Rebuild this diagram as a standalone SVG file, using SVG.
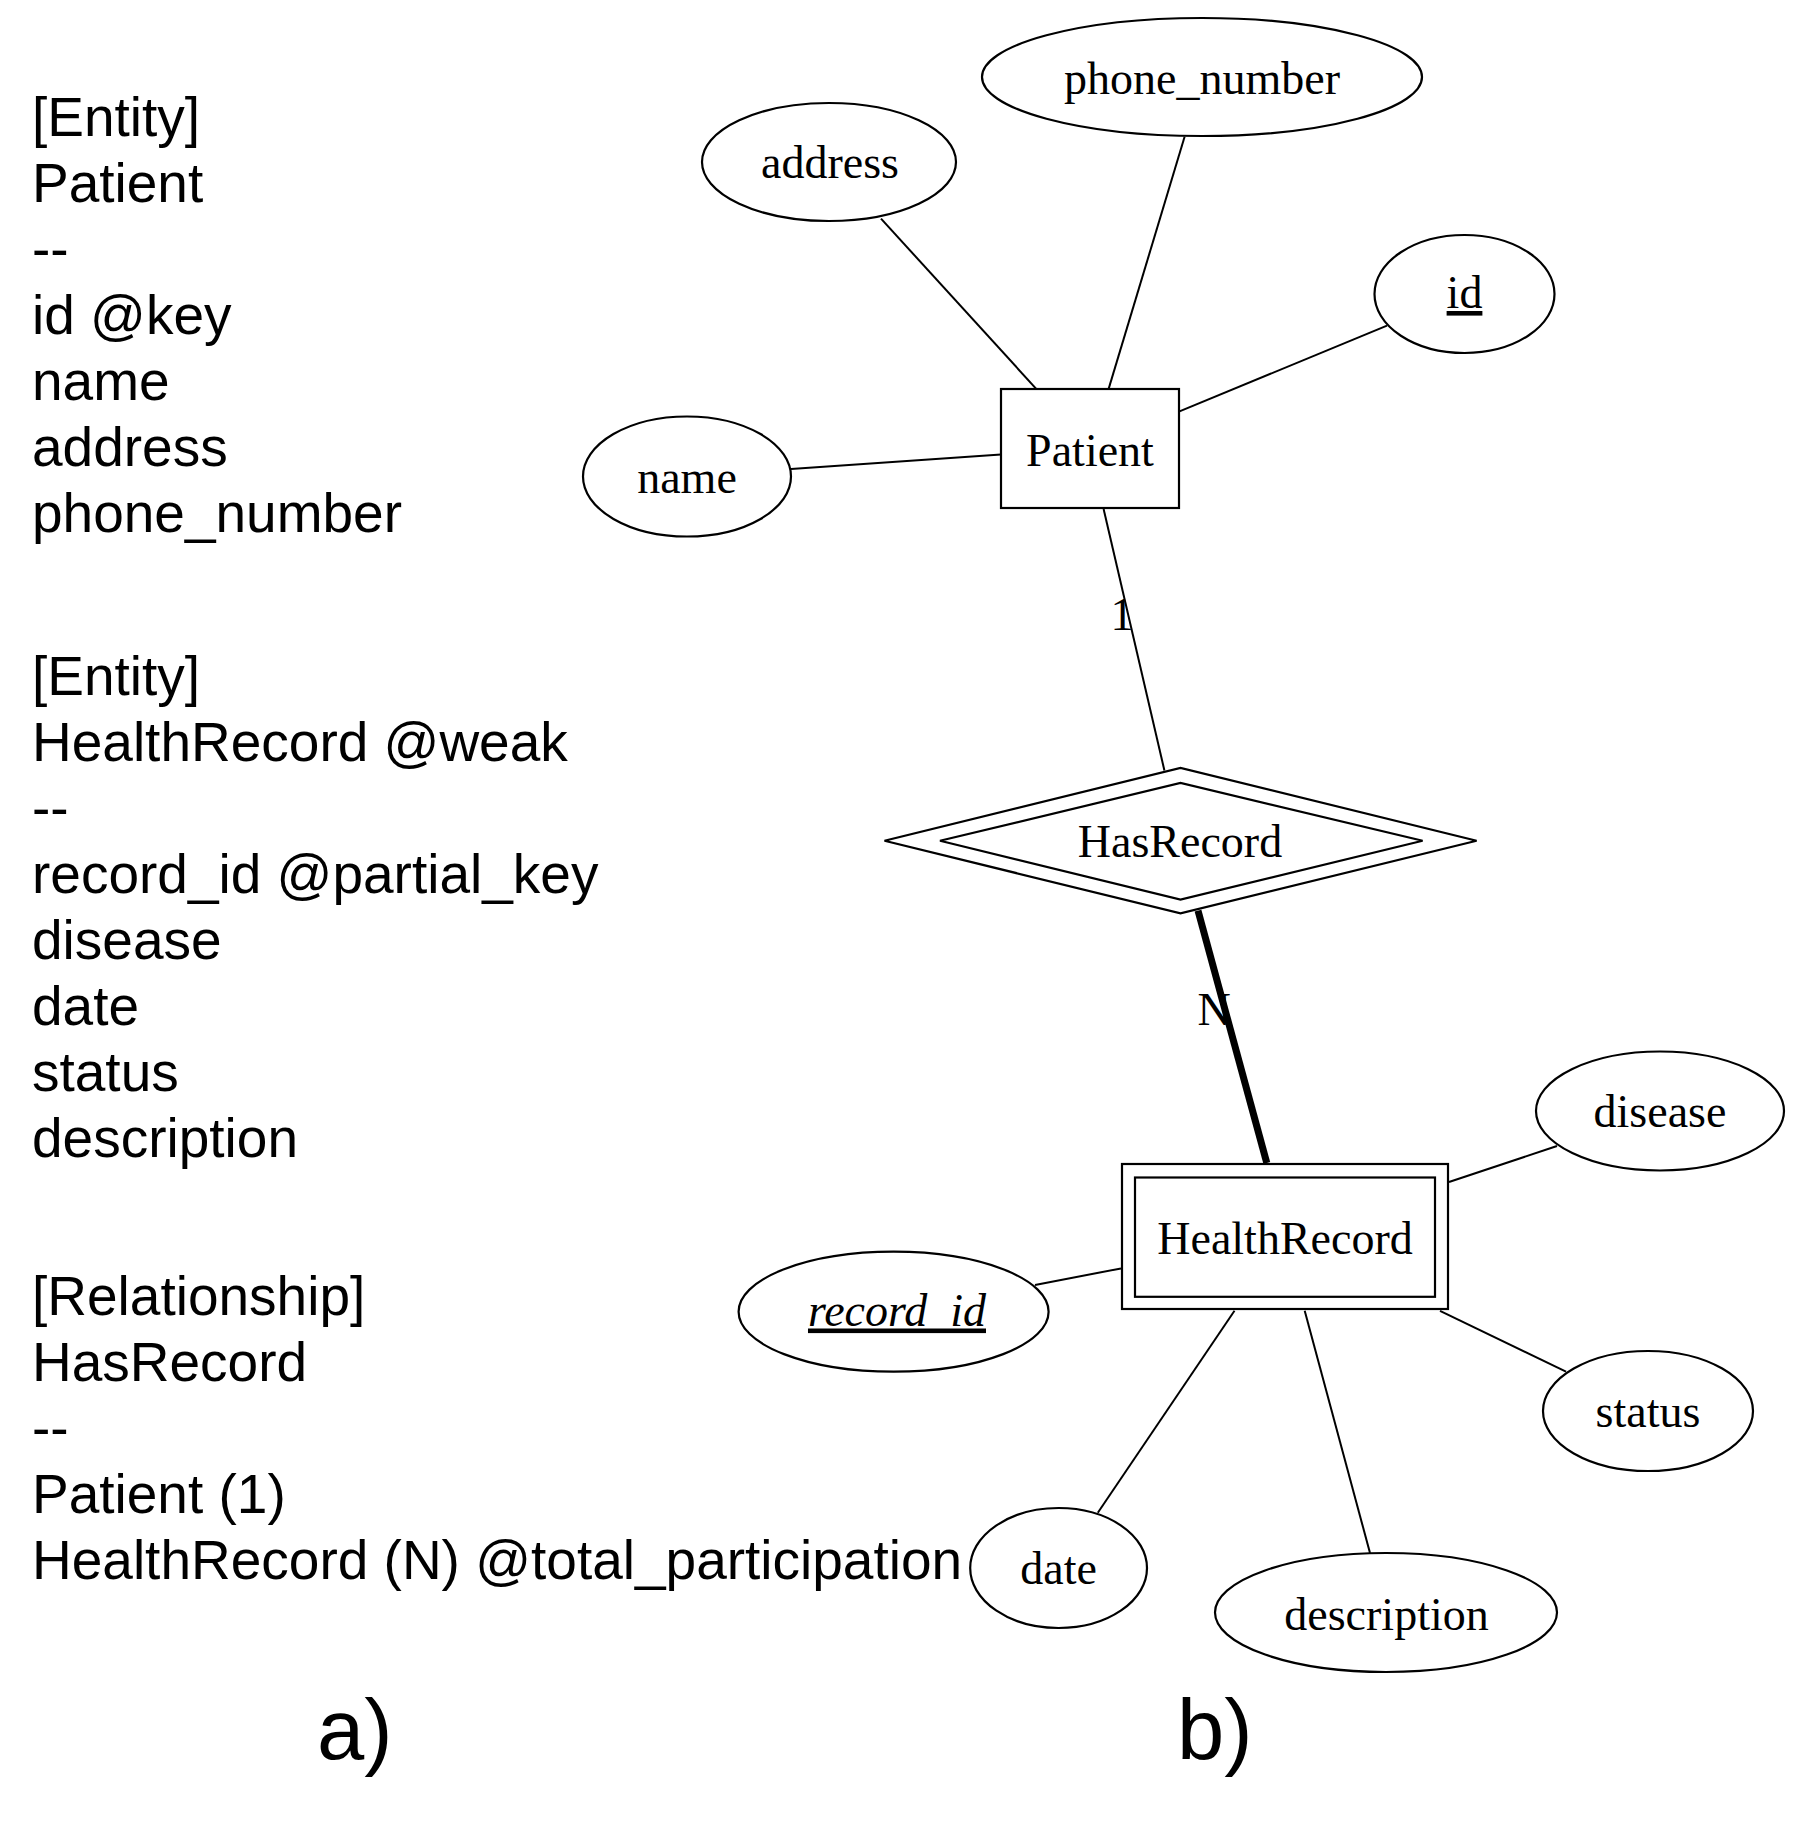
<svg xmlns="http://www.w3.org/2000/svg" width="1801" height="1828" viewBox="0 0 1801 1828">
<style>
.src{font-family:"Liberation Sans",Arial,sans-serif;font-size:55px;fill:#000}
.cap{font-family:"Liberation Sans",Arial,sans-serif;font-size:85px;fill:#000}
.lbl{font-family:"Liberation Serif","Times New Roman",serif;font-size:46px;fill:#000;text-anchor:middle}
.shape{fill:none;stroke:#000;stroke-width:2.2}
.edge{stroke:#000;stroke-width:2;fill:none}
.thick{stroke:#000;stroke-width:7;fill:none}
</style>
<rect x="0" y="0" width="1801" height="1828" fill="#fff"/>
<g id="source-text">
<text class="src" x="32" y="135.5">[Entity]</text>
<text class="src" x="32" y="201.5">Patient</text>
<text class="src" x="32" y="267.5">--</text>
<text class="src" x="32" y="333.5">id @key</text>
<text class="src" x="32" y="399.5">name</text>
<text class="src" x="32" y="465.5">address</text>
<text class="src" x="32" y="531.5">phone_number</text>
<text class="src" x="32" y="695">[Entity]</text>
<text class="src" x="32" y="761">HealthRecord @weak</text>
<text class="src" x="32" y="827">--</text>
<text class="src" x="32" y="893">record_id @partial_key</text>
<text class="src" x="32" y="959">disease</text>
<text class="src" x="32" y="1025">date</text>
<text class="src" x="32" y="1091">status</text>
<text class="src" x="32" y="1157">description</text>
<text class="src" x="32" y="1315">[Relationship]</text>
<text class="src" x="32" y="1381">HasRecord</text>
<text class="src" x="32" y="1447">--</text>
<text class="src" x="32" y="1513">Patient (1)</text>
<text class="src" x="32" y="1579">HealthRecord (N) @total_participation</text>
</g>
<g id="captions">
<text class="cap" x="317" y="1759">a)</text>
<text class="cap" x="1177" y="1759">b)</text>
</g>
<g id="connectors">
<line class="edge" x1="881" y1="218.6" x2="1036" y2="388.6"/>
<line class="edge" x1="1184.6" y1="136.8" x2="1108.7" y2="388.6"/>
<line class="edge" x1="1387" y1="325.7" x2="1179.5" y2="411.4"/>
<line class="edge" x1="791" y1="469" x2="1001" y2="454.6"/>
<line class="edge" x1="1103.6" y1="509" x2="1164.4" y2="770.4" stroke-width="1.7"/>
<line class="thick" x1="1198" y1="910.7" x2="1266.8" y2="1163"/>
<line class="edge" x1="1449" y1="1182" x2="1557" y2="1146"/>
<line class="edge" x1="1121" y1="1268.4" x2="1035" y2="1285"/>
<line class="edge" x1="1440" y1="1310.8" x2="1566" y2="1371.6"/>
<line class="edge" x1="1234.5" y1="1310.8" x2="1097.8" y2="1512.8"/>
<line class="edge" x1="1304.7" y1="1310.8" x2="1370" y2="1553"/>
<text class="lbl" x="1122" y="630">1</text>
<text class="lbl" x="1214" y="1025">N</text>
</g>
<g id="node-phone_number">
<ellipse class="shape" cx="1202" cy="77" rx="220" ry="59"/>
<text class="lbl" x="1202" y="93.5">phone_number</text>
</g>
<g id="node-address">
<ellipse class="shape" cx="829" cy="162" rx="127" ry="59"/>
<text class="lbl" x="830" y="178">address</text>
</g>
<g id="node-id">
<ellipse class="shape" cx="1464.5" cy="294" rx="90" ry="59"/>
<text class="lbl" x="1464.5" y="308" text-decoration="underline">id</text>
</g>
<g id="node-name">
<ellipse class="shape" cx="687" cy="476.5" rx="104" ry="60"/>
<text class="lbl" x="687" y="493">name</text>
</g>
<g id="node-Patient">
<rect class="shape" x="1001" y="389" width="178" height="119"/>
<text class="lbl" x="1090" y="466">Patient</text>
</g>
<g id="node-HasRecord">
<polygon class="shape" points="884.5,840.8 1180.5,767.9 1476.6,840.8 1180.5,913.3"/>
<polygon class="shape" points="940,840.8 1180.5,783 1422.6,840.8 1180.5,899.5"/>
<text class="lbl" x="1180" y="857">HasRecord</text>
</g>
<g id="node-HealthRecord">
<rect class="shape" x="1122" y="1164" width="326" height="145"/>
<rect class="shape" x="1135" y="1177.5" width="300" height="119.3"/>
<text class="lbl" x="1285" y="1254">HealthRecord</text>
</g>
<g id="node-disease">
<ellipse class="shape" cx="1660" cy="1111" rx="124" ry="59.5"/>
<text class="lbl" x="1660" y="1126.5">disease</text>
</g>
<g id="node-record_id">
<ellipse class="shape" cx="893.6" cy="1311.7" rx="155" ry="60"/>
<text class="lbl" x="897" y="1325.5" font-style="italic" text-decoration="underline">record_id</text>
</g>
<g id="node-status">
<ellipse class="shape" cx="1648" cy="1411" rx="105" ry="60"/>
<text class="lbl" x="1648" y="1427">status</text>
</g>
<g id="node-date">
<ellipse class="shape" cx="1058.6" cy="1568" rx="88.4" ry="60"/>
<text class="lbl" x="1058.6" y="1584">date</text>
</g>
<g id="node-description">
<ellipse class="shape" cx="1386" cy="1612.5" rx="171" ry="59.5"/>
<text class="lbl" x="1386.5" y="1629.5">description</text>
</g>
</svg>
